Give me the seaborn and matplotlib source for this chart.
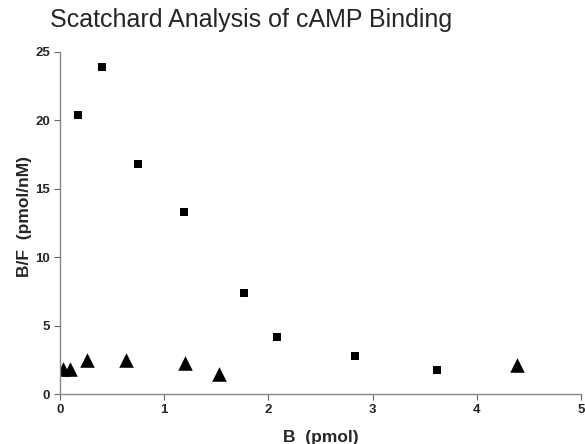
import matplotlib
matplotlib.use("Agg")
import matplotlib.pyplot as plt
import seaborn as sns
import pandas as pd

sns.set_theme(style="ticks")
plt.rcParams['font.family'] = ['Liberation Sans', 'DejaVu Sans']

# Squares series
sq_x = [0.17, 0.40, 0.75, 1.19, 1.77, 2.08, 2.83, 3.62]
sq_y = [20.4, 23.9, 16.8, 13.3, 7.4, 4.2, 2.8, 1.75]
# Triangles series
tri_x = [0.03, 0.10, 0.26, 0.63, 1.20, 1.53, 4.39]
tri_y = [1.85, 1.8, 2.45, 2.45, 2.3, 1.45, 2.1]

x_ticks = [0, 1, 2, 3, 4, 5]
y_ticks = [0, 5, 10, 15, 20, 25]

df_sq = pd.DataFrame({"B": sq_x, "BF": sq_y})
df_tri = pd.DataFrame({"B": tri_x, "BF": tri_y})

fig = plt.figure(figsize=(5.85, 4.44), dpi=100)
ax = fig.add_axes([0.1026, 0.1126, 0.8904, 0.7704])

sns.scatterplot(data=df_sq, x="B", y="BF", marker="s", s=30, color="black",
                edgecolor="black", linewidth=0, ax=ax)
sns.scatterplot(data=df_tri, x="B", y="BF", marker="^", s=110, color="black",
                edgecolor="black", linewidth=0, ax=ax)

ax.set_xlim(0, 5)
ax.set_ylim(0, 25)
ax.set_xticks(x_ticks)
ax.set_yticks(y_ticks)
for s in ["top", "right"]:
    ax.spines[s].set_visible(False)
for s in ["left", "bottom"]:
    ax.spines[s].set_color("#888888")
    ax.spines[s].set_linewidth(1.0)
ax.tick_params(axis="both", length=4, width=0.8, color="#666666",
               labelsize=9.5, pad=3)
for lab in ax.get_xticklabels() + ax.get_yticklabels():
    lab.set_fontweight("bold")

ax.set_xlabel("B  (pmol)", fontsize=12.5, fontweight="bold")
ax.set_ylabel("B/F  (pmol/nM)", fontsize=12.5, fontweight="bold")
ax.xaxis.set_label_coords(0.5, -0.105)
ax.yaxis.set_label_coords(-0.054, 0.518)

fig.text(0.43, 0.955, "Scatchard Analysis of cAMP Binding", ha="center",
         va="center", fontsize=18)

fig.savefig("out.png", dpi=100, facecolor="white")
